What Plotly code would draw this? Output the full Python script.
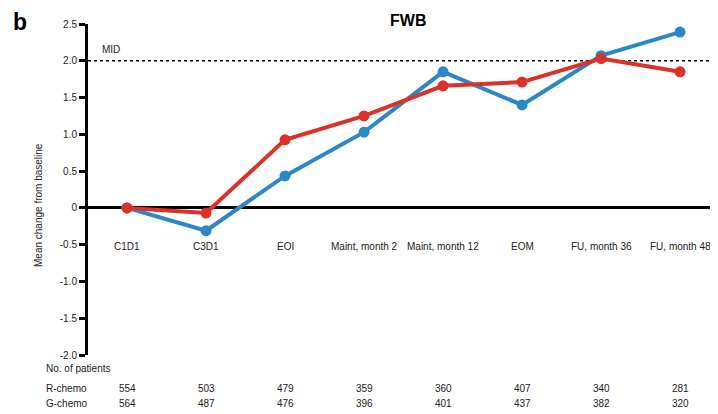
import plotly.graph_objects as go

categories = ["C1D1", "C3D1", "EOI", "Maint, month 2", "Maint, month 12", "EOM", "FU, month 36", "FU, month 48"]
g_chemo = [0.0, -0.31, 0.435, 1.03, 1.85, 1.40, 2.07, 2.39]
r_chemo = [0.0, -0.07, 0.925, 1.25, 1.66, 1.71, 2.03, 1.85]
r_patients = [554, 503, 479, 359, 360, 407, 340, 281]
g_patients = [564, 487, 476, 396, 401, 437, 382, 320]
y_ticks = [-2.0, -1.5, -1.0, -0.5, 0, 0.5, 1.0, 1.5, 2.0, 2.5]
y_ticktext = ["-2.0", "-1.5", "-1.0", "-0.5", "0", "0.5", "1.0", "1.5", "2.0", "2.5"]
mid_value = 2.0

BLUE = "#2b88c7"
RED = "#dc3129"
FONT = "Liberation Sans, Arial, Helvetica, sans-serif"
TXT = "#222"

xs = list(range(len(categories)))

# plot area in reference pixel coords
PL, PR, PT, PB = 88, 718, 24, 355


def px(x):
    return (x - PL) / (PR - PL)


def py(y):
    return (PB - y) / (PB - PT)


fig = go.Figure()
fig.add_trace(go.Scatter(x=xs, y=g_chemo, mode="lines+markers", name="G-chemo",
                         line=dict(color=BLUE, width=4), marker=dict(size=11, color=BLUE),
                         cliponaxis=False))
fig.add_trace(go.Scatter(x=xs, y=r_chemo, mode="lines+markers", name="R-chemo",
                         line=dict(color=RED, width=4), marker=dict(size=11, color=RED),
                         cliponaxis=False))

fig.add_shape(type="line", xref="paper", x0=0, x1=1, yref="y", y0=mid_value, y1=mid_value,
              line=dict(color="black", width=1.5, dash="dot"), layer="below")

ann = []
ann.append(dict(x=px(100), xref="paper", y=2.16, yref="y", text="MID", showarrow=False,
                xanchor="left", yanchor="middle", font=dict(size=10, color=TXT)))
for i, c in enumerate(categories):
    ann.append(dict(x=i, y=-0.53, xref="x", yref="y", text=c, showarrow=False,
                    xanchor="center", yanchor="middle", font=dict(size=10, color=TXT)))
    ann.append(dict(x=i, y=py(388), xref="x", yref="paper", text=str(r_patients[i]), showarrow=False,
                    xanchor="center", yanchor="middle", font=dict(size=10, color=TXT)))
    ann.append(dict(x=i, y=py(403), xref="x", yref="paper", text=str(g_patients[i]), showarrow=False,
                    xanchor="center", yanchor="middle", font=dict(size=10, color=TXT)))
for label, yy in [("No. of patients", 368), ("R-chemo", 388), ("G-chemo", 403)]:
    ann.append(dict(x=px(44), xref="paper", y=py(yy), yref="paper", text=label, showarrow=False,
                    xanchor="left", yanchor="middle", font=dict(size=10, color=TXT)))
ann.append(dict(x=px(38), xref="paper", y=py(205), yref="paper", text="Mean change from baseline",
                textangle=-90, showarrow=False, xanchor="center", yanchor="middle",
                font=dict(size=10, color=TXT)))
ann.append(dict(x=px(408), y=py(20), xref="paper", yref="paper", text="<b>FWB</b>", showarrow=False,
                xanchor="center", yanchor="middle", font=dict(size=16, color="black")))
ann.append(dict(x=px(20), y=py(8), xref="paper", yref="paper", text="<b>b</b>", showarrow=False,
                xanchor="center", yanchor="top", borderpad=0, font=dict(size=23, color="black")))

# page has an 8px body margin; shrink the figure so the picture aligns
OFF = 8
fig.update_layout(
    width=718 - OFF, height=414 - OFF,
    margin=dict(l=PL - OFF, r=0, t=PT - OFF, b=414 - PB),
    paper_bgcolor="white", plot_bgcolor="white",
    showlegend=False,
    font=dict(family=FONT, size=10, color=TXT),
    annotations=ann,
    xaxis=dict(range=[-0.494, 7.48], visible=False, showgrid=False, zeroline=False),
    yaxis=dict(range=[-2.0, 2.5], tickvals=y_ticks, ticktext=y_ticktext,
               showline=True, linewidth=3, linecolor="black",
               ticks="outside", ticklen=6, tickwidth=2.5, tickcolor="black",
               showgrid=False, zeroline=True, zerolinewidth=3, zerolinecolor="black",
               tickfont=dict(size=10, color=TXT)),
)

fig.write_html("out.html")
